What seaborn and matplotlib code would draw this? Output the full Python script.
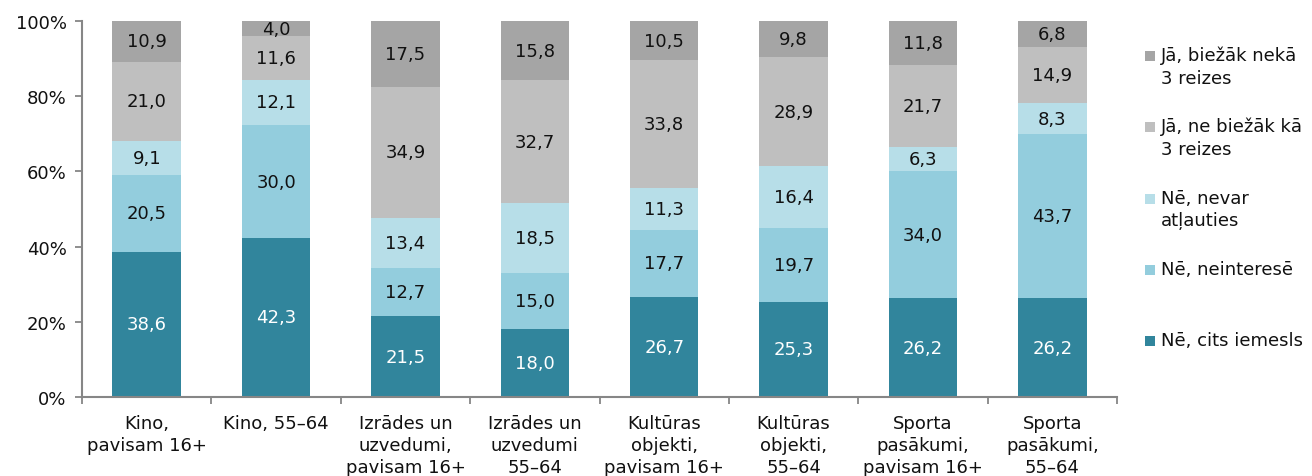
import matplotlib
matplotlib.use("Agg")
import matplotlib.pyplot as plt
import seaborn as sns
import numpy as np
import pandas as pd
from matplotlib.patches import Rectangle

categories = ["Kino,\npavisam 16+", "Kino, 55–64", "Izrādes un\nuzvedumi,\npavisam 16+",
              "Izrādes un\nuzvedumi\n55–64", "Kultūras\nobjekti,\npavisam 16+",
              "Kultūras\nobjekti,\n55–64", "Sporta\npasākumi,\npavisam 16+",
              "Sporta\npasākumi,\n55–64"]

series_names = ["Nē, cits iemesls", "Nē, neinteresē", "Nē, nevar\natļauties",
                "Jā, ne biežāk kā\n3 reizes", "Jā, biežāk nekā\n3 reizes"]

ne_cits = [38.6, 42.3, 21.5, 18.0, 26.7, 25.3, 26.2, 26.2]
ne_neinterese = [20.5, 30.0, 12.7, 15.0, 17.7, 19.7, 34.0, 43.7]
ne_nevar = [9.1, 12.1, 13.4, 18.5, 11.3, 16.4, 6.3, 8.3]
ja_ne_biezak = [21.0, 11.6, 34.9, 32.7, 33.8, 28.9, 21.7, 14.9]
ja_biezak = [10.9, 4.0, 17.5, 15.8, 10.5, 9.8, 11.8, 6.8]

colors = ["#31859C", "#93CDDD", "#B7DEE8", "#BFBFBF", "#A5A5A5"]
TXT = "#111111"
label_colors = ["white", TXT, TXT, TXT, TXT]

sns.set_style("white")
plt.rcParams['font.family'] = ['DejaVu Sans']
FS = 13

values = np.array([ne_cits, ne_neinterese, ne_nevar, ja_ne_biezak, ja_biezak])
cum = np.cumsum(values, axis=0)

fig = plt.figure(figsize=(13.12, 4.77), dpi=100)
ax = fig.add_axes([82/1312, 79/477, 1035/1312, 376/477])

# draw from top layer down so lower layers overlay
for i in range(len(series_names) - 1, -1, -1):
    df = pd.DataFrame({"cat": categories, "val": cum[i]})
    sns.barplot(data=df, x="cat", y="val", color=colors[i], width=0.53,
                saturation=1, ax=ax, linewidth=0, edgecolor="none")

for i in range(len(series_names)):
    for j in range(len(categories)):
        center = cum[i, j] - values[i, j] / 2
        ax.text(j, center, f"{values[i, j]:.1f}".replace(".", ","),
                ha="center", va="center", fontsize=FS, color=label_colors[i])

ax.set_xlim(-0.5, len(categories) - 0.5)
ax.set_ylim(0, 100)
ax.set_xlabel("")
ax.set_ylabel("")
ax.set_yticks([0, 20, 40, 60, 80, 100])
ax.set_yticklabels([f"{v}%" for v in [0, 20, 40, 60, 80, 100]], fontsize=FS, color=TXT)
ax.set_xticks(range(len(categories)))
ax.set_xticklabels(categories, fontsize=FS, linespacing=1.3, color=TXT)
ax.set_xticks(np.arange(-0.5, len(categories)), minor=True)
ax.tick_params(axis="x", which="major", length=0, pad=12, bottom=True)
ax.tick_params(axis="x", which="minor", length=5, color="#868686", width=1.3,
               direction="out", bottom=True)
ax.tick_params(axis="y", length=5, color="#868686", width=1.3, direction="out",
               pad=6, left=True)

for s in ["top", "right"]:
    ax.spines[s].set_visible(False)
for s in ["left", "bottom"]:
    ax.spines[s].set_color("#868686")
    ax.spines[s].set_linewidth(1.5)

# legend (top to bottom: reverse series order)
leg_y = [57, 128, 200, 271, 342]
for k, i in enumerate(range(len(series_names) - 1, -1, -1)):
    yc = 1 - leg_y[k] / 477
    fig.patches.append(Rectangle((1145/1312, yc - 5/477), 10/1312, 10/477,
                                 transform=fig.transFigure, facecolor=colors[i],
                                 edgecolor="none"))
    fig.text(1161/1312, yc + 10/477, series_names[i], ha="left", va="top",
             fontsize=FS, color=TXT, linespacing=1.3)

fig.savefig("out.png", dpi=100)
